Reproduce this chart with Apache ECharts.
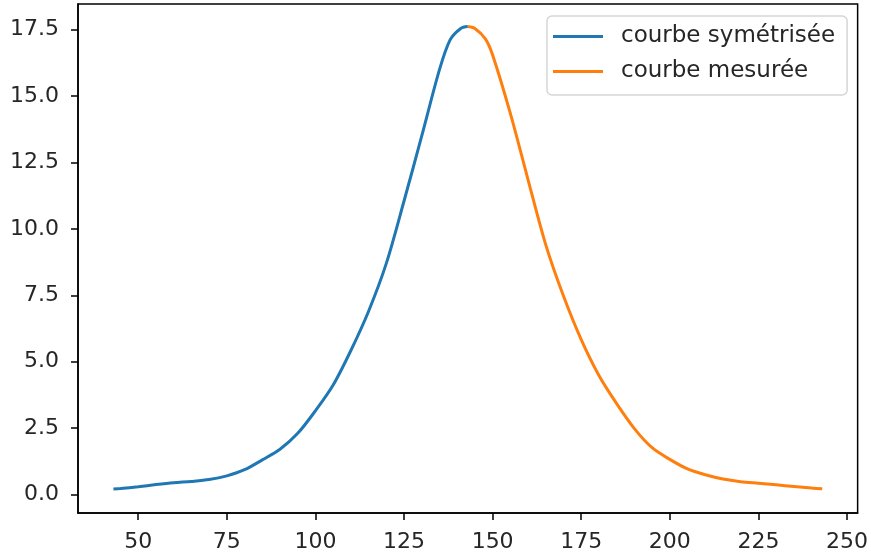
<!DOCTYPE html>
<html>
<head>
<meta charset="utf-8">
<script src="https://cdn.jsdelivr.net/npm/echarts@6/dist/echarts.min.js"></script>
<style>
  html, body { margin: 0; padding: 0; background: #fff; }
  #chart { width: 871px; height: 558px; }
</style>
</head>
<body>
<div id="chart"></div>
<script>
// Symmetrised half (left of the peak)
const symX = [43, 45, 50, 55, 60, 65, 70, 75, 80, 85, 90, 95, 100, 105, 110, 115, 120, 125, 130, 135, 138, 141, 143];
const symY = [0.2, 0.22, 0.29, 0.37, 0.44, 0.49, 0.56, 0.70, 0.93, 1.3, 1.7, 2.3, 3.15, 4.12, 5.42, 6.9, 8.7, 11.05, 13.5, 16.0, 17.12, 17.55, 17.62];

// Measured half (right of the peak)
const mesX = [143, 145, 148, 150, 155, 160, 165, 170, 175, 180, 185, 190, 195, 200, 205, 210, 215, 220, 225, 230, 235, 240, 243];
const mesY = [17.62, 17.55, 17.15, 16.55, 14.35, 11.85, 9.4, 7.47, 5.83, 4.48, 3.42, 2.48, 1.76, 1.32, 0.96, 0.74, 0.58, 0.48, 0.42, 0.36, 0.30, 0.24, 0.21];

const xTicks = [50, 75, 100, 125, 150, 175, 200, 225, 250];
const yTicks = [0, 2.5, 5, 7.5, 10, 12.5, 15, 17.5];

const seriesNames = ['courbe symétrisée', 'courbe mesurée'];
const seriesColors = ['#1f77b4', '#ff7f0e'];

const pairs = (xs, ys) => xs.map((x, i) => [x, ys[i]]);

const FONT = 'DejaVu Sans';
const TXT = '#262626';

const chart = echarts.init(document.getElementById('chart'), null, { renderer: 'canvas' });

const axisLine = { show: true, onZero: false, lineStyle: { color: '#000', width: 1.5 } };
const tickStyle = { show: true, inside: false, length: 7, lineStyle: { color: '#000', width: 1.5 } };

chart.setOption({
  animation: false,
  backgroundColor: '#fff',
  grid: {
    left: 78, right: 11, top: 4, bottom: 45,
    show: true, borderColor: '#000', borderWidth: 1.5, containLabel: false
  },
  xAxis: {
    type: 'value',
    min: 33, max: 253,
    splitLine: { show: false },
    axisLine: axisLine,
    axisTick: Object.assign({}, tickStyle, { customValues: xTicks }),
    axisLabel: {
      customValues: xTicks, margin: 18,
      fontFamily: FONT, fontSize: 22, color: TXT,
      formatter: v => String(v)
    }
  },
  yAxis: {
    type: 'value',
    min: -0.7, max: 18.47,
    splitLine: { show: false },
    axisLine: axisLine,
    axisTick: Object.assign({}, tickStyle, { customValues: yTicks }),
    axisLabel: {
      customValues: yTicks, margin: 19,
      fontFamily: FONT, fontSize: 22, color: TXT,
      formatter: v => v.toFixed(1)
    }
  },
  legend: {
    orient: 'vertical',
    left: 547, top: 16,
    align: 'left',
    padding: [9, 12, 12, 6],
    itemGap: 12,
    itemWidth: 50, itemHeight: 3,
    icon: 'rect',
    backgroundColor: 'rgba(255,255,255,0.8)',
    borderColor: '#d6d6d6', borderWidth: 1.5, borderRadius: 5,
    textStyle: { fontFamily: FONT, fontSize: 23, color: TXT, padding: [0, 0, 0, 13], lineHeight: 23 },
    data: seriesNames
  },
  series: [
    {
      name: seriesNames[0], type: 'line', showSymbol: false,
      smooth: 0.3,
      color: seriesColors[0], lineStyle: { width: 3, color: seriesColors[0] },
      data: pairs(symX, symY)
    },
    {
      name: seriesNames[1], type: 'line', showSymbol: false,
      smooth: 0.3,
      color: seriesColors[1], lineStyle: { width: 3, color: seriesColors[1] },
      data: pairs(mesX, mesY)
    }
  ]
});
</script>
</body>
</html>
